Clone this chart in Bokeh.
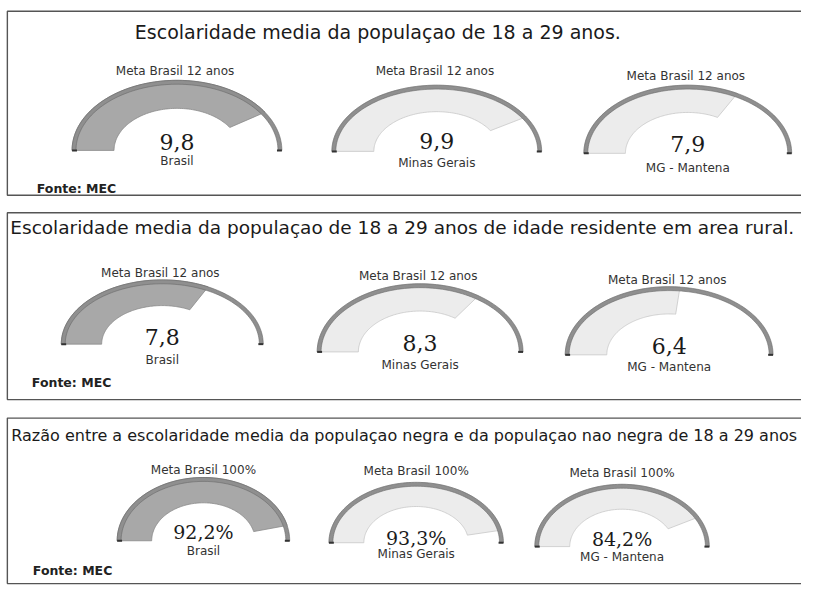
import numpy as np
from bokeh.plotting import figure
from bokeh.models import Range1d
from bokeh.core.properties import value
from bokeh.embed import file_html
from bokeh.resources import INLINE

# ---------------- data ----------------
panel_titles = [
    "Escolaridade media da populaçao de 18 a 29 anos.",
    "Escolaridade media da populaçao de 18 a 29 anos de idade residente em area rural.",
    "Razão entre a escolaridade media da populaçao negra e da populaçao nao negra de 18 a  29 anos",
]
regions = ["Brasil", "Minas Gerais", "MG - Mantena"]
values_anos = [9.8, 9.9, 7.9]
values_rural = [7.8, 8.3, 6.4]
values_razao = [92.2, 93.3, 84.2]
meta_anos = 12
meta_razao = 100
meta_labels = ["Meta Brasil  12 anos", "Meta Brasil  12 anos", "Meta Brasil 100%"]
source_label = "Fonte: MEC"

panel_values = [values_anos, values_rural, values_razao]
panel_meta = [meta_anos, meta_anos, meta_razao]
panel_suffix = ["", "", "%"]

# ---------------- layout (reference pixels) ----------------
W, H = 801, 587
RW, RH = 817, 603
frames = [(11, 200), (218, 410), (429, 599)]
title_pos = [(137, 32, "19px"), (10, 233, "18.5px"), (11, 447, "16px")]
fonte_pos = [(37, 193), (32, 392), (33, 586)]
# gauges: cx, baseline, a, b, meta_y, value_y, name_y
gauges = [
    [(180, 154, 107, 72, 72, 145, 165), (445, 155, 107, 68, 72, 144, 167), (701, 157, 106, 70, 78, 147, 172)],
    [(165, 353, 103, 66, 280, 346, 369), (428, 361, 105, 70, 283, 352, 374), (682, 364, 106, 70, 287, 355, 376)],
    [(207, 555, 88, 65, 482, 546, 565), (424, 557, 89, 62, 483, 552, 569), (634, 561, 89, 64, 485, 553, 572)],
]
value_font = ["22px", "22px", "19px"]
fill_colors = ["#a8a8a8", "#ececec", "#ececec"]
fill_lines = ["#8a8a8a", "#c8c8c8", "#c8c8c8"]
INNER = 0.6
RIM = 4

p = figure(width=W, height=H, x_range=Range1d(0, RW), y_range=Range1d(RH, 0),
           output_backend="svg", toolbar_location=None, min_border=0,
           x_axis_location=None, y_axis_location=None)
p.grid.visible = False
p.outline_line_color = None
p.background_fill_color = "white"
p.border_fill_color = "white"


def ring(cx, cy, ao, bo, ai, bi, t0, t1, n=90):
    th = np.linspace(t0, t1, n)
    xo = cx + ao * np.cos(th)
    yo = cy - bo * np.sin(th)
    xi = cx + ai * np.cos(th[::-1])
    yi = cy - bi * np.sin(th[::-1])
    return list(np.concatenate([xo, xi])), list(np.concatenate([yo, yi]))


# panel frames
for (top, bot) in frames:
    p.quad(left=[7], right=[900], top=[top], bottom=[bot], fill_color=None,
           line_color="#555555", line_width=1.4)

sans = value("DejaVu Sans")
serif = value("DejaVu Serif")

for k in range(3):
    tx, ty, tfs = title_pos[k]
    p.text(x=[tx], y=[ty], text=[panel_titles[k]], text_font=sans, text_font_size=tfs,
           text_baseline="middle", text_align="left", text_color="#1a1a1a")
    fx, fy = fonte_pos[k]
    p.text(x=[fx], y=[fy], text=[source_label], text_font=sans, text_font_size="12.5px",
           text_font_style="bold", text_baseline="middle", text_align="left", text_color="#222222")
    for j in range(3):
        cx, cy, a, b, my, vy, ny = gauges[k][j]
        v = panel_values[k][j]
        frac = min(v / panel_meta[k], 1.0)
        # filled portion
        xs, ys = ring(cx, cy, a, b, a * INNER, b * INNER, np.pi, np.pi - np.pi * frac)
        p.patch(xs, ys, fill_color=fill_colors[j], line_color=fill_lines[j], line_width=0.8)
        # outer rim over whole arc
        xs, ys = ring(cx, cy, a, b, a - RIM, b - RIM, np.pi, 0)
        p.patch(xs, ys, fill_color="#8f8f8f", line_color="#6a6a6a", line_width=0.6)
        # end marks
        p.segment(x0=[cx - a, cx + a - RIM - 1], y0=[cy, cy], x1=[cx - a + RIM + 1, cx + a], y1=[cy, cy],
                  line_color="#333333", line_width=2)
        # texts
        p.text(x=[cx], y=[my], text=[meta_labels[k]], text_font=sans, text_font_size="12px",
               text_baseline="middle", text_align="center", text_color="#333333")
        vtxt = f"{v:.1f}".replace(".", ",") + panel_suffix[k]
        p.text(x=[cx], y=[vy], text=[vtxt], text_font=serif, text_font_size=value_font[k],
               text_baseline="middle", text_align="center", text_color="#1a1a1a")
        p.text(x=[cx], y=[ny], text=[regions[j]], text_font=sans, text_font_size="12px",
               text_baseline="middle", text_align="center", text_color="#333333")

open("out.html", "w").write(file_html(p, INLINE))
